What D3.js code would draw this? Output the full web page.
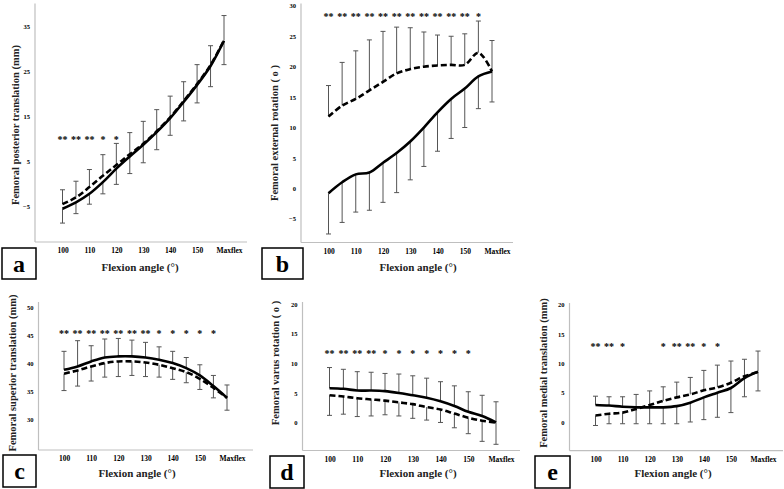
<!DOCTYPE html>
<html><head><meta charset="utf-8">
<script src="https://cdn.jsdelivr.net/npm/d3@7"></script>
<style>body{margin:0;background:#fff}svg{display:block}</style>
</head><body>
<svg id="chart" width="784" height="489"></svg>
<script>
const categories = ["100","105","110","115","120","125","130","135","140","145","150","155","Maxflex"];
const tickLabels = ["100","110","120","130","140","150","Maxflex"];

// Panel a: femoral posterior translation (mm)
const aSolid  = [-5.6,-4.2,-2.3,0.3,3.3,6.0,8.6,11.4,14.5,18.1,21.9,26.1,31.7];
const aDashed = [-4.6,-3.1,-0.8,1.7,4.1,6.5,8.8,11.6,14.7,18.3,22.1,26.3,31.8];
const aErrTop = [-1.4,0.5,3.1,6.4,8.9,11.3,13.8,16.4,19.4,22.6,26.4,30.6,37.3];
const aErrBot = [-8.8,-6.7,-4.6,-2.3,-0.2,2.2,4.6,7.5,10.7,13.9,17.9,21.5,26.4];
const aStars  = ["**","**","**","*","*","","","","","","","",""];
const aTicks  = [-5,5,15,25,35];

// Panel b: femoral external rotation
const bSolid  = [-0.8,1.0,2.3,2.6,4.2,5.8,7.7,10.0,12.5,14.7,16.4,18.4,19.2];
const bDashed = [11.8,13.6,14.7,16.1,17.5,18.9,19.6,20.0,20.2,20.3,20.3,22.3,19.2];
const bErrTop = [16.9,20.7,22.6,24.4,25.8,26.5,26.4,25.7,25.2,25.0,25.4,27.5,24.3];
const bErrBot = [-7.5,-5.6,-3.9,-3.6,-2.3,-0.7,1.4,3.6,6.1,8.2,10.0,13.1,14.2];
const bStars  = ["**","**","**","**","**","**","**","**","**","**","**","*",""];
const bTicks  = [-5,0,5,10,15,20,25,30];

// Panel c: femoral superior translation (mm)
const cSolid  = [38.8,39.4,40.3,41.0,41.2,41.2,41.0,40.6,40.0,39.1,37.8,35.9,33.8];
const cDashed = [38.1,38.7,39.4,40.0,40.3,40.3,40.1,39.7,39.1,38.4,37.2,35.6,33.8];
const cErrTop = [42.1,44.0,43.1,44.3,44.4,44.1,43.7,42.9,42.1,41.0,39.7,37.8,36.1];
const cErrBot = [35.1,35.9,36.8,37.5,37.6,37.8,37.6,37.5,37.1,36.5,35.3,33.8,31.6];
const cStars  = ["**","**","**","**","**","**","**","*","*","*","*","*",""];
const cTicks  = [30,35,40,45,50];

// Panel d: femoral varus rotation
const dSolid  = [5.8,5.7,5.4,5.4,5.3,5.0,4.6,4.2,3.6,2.8,1.8,1.1,0.0];
const dDashed = [4.6,4.4,4.1,3.9,3.7,3.4,3.1,2.6,2.2,1.5,0.8,0.3,0.0];
const dErrTop = [9.3,9.0,8.6,8.5,8.3,8.2,7.9,7.5,6.9,6.2,5.2,4.6,3.5];
const dErrBot = [1.2,1.4,1.0,1.1,1.3,1.1,0.7,0.4,0.0,-0.9,-1.9,-3.2,-3.7];
const dStars  = ["**","**","**","**","*","*","*","*","*","*","*","",""];
const dTicks  = [0,5,10,15,20];

// Panel e: femoral medial translation (mm)
const eSolid  = [2.9,2.8,2.6,2.5,2.5,2.5,2.7,3.3,4.2,5.0,5.8,7.5,8.6];
const eDashed = [1.1,1.4,1.6,2.2,2.9,3.6,4.2,4.7,5.4,5.9,6.7,7.8,8.5];
const eErrTop = [4.4,4.3,4.3,4.7,5.3,6.0,6.8,7.6,8.8,9.7,10.4,10.7,12.1];
const eErrBot = [-0.6,-0.3,-0.3,-0.3,-0.3,-0.3,-0.3,0.0,0.4,0.8,1.6,4.3,5.3];
const eStars  = ["**","**","*","","","*","**","**","*","*","","",""];
const eTicks  = [0,5,10,15,20];

const svg = d3.select("#chart");
const SERIF = "'Liberation Serif','Times New Roman',serif";

const panels = [
  {letter:"a", solid:aSolid, dashed:aDashed, top:aErrTop, bot:aErrBot, stars:aStars, ticks:aTicks,
   title:"Femoral posterior translation (mm)", dom:[-13,40], y0:242, y1:3.4, x0:35, x1:247, p0:62.5, p1:224,
   starV:9.8, tX:15, tY:125, fX:140, fY:271, box:[2,248,34,31]},
  {letter:"b", solid:bSolid, dashed:bDashed, top:bErrTop, bot:bErrBot, stars:bStars, ticks:bTicks,
   title:"Femoral external rotation ( o )", dom:[-8.9,30.4], y0:242.5, y1:3.4, x0:301, x1:513, p0:328.5, p1:492,
   starV:28.3, tX:274, tY:133, fX:418, fY:271, box:[262,248,41,31]},
  {letter:"c", solid:cSolid, dashed:cDashed, top:cErrTop, bot:cErrBot, stars:cStars, ticks:cTicks,
   title:"Femoral  superior translation (mm)", dom:[24.5,50.9], y0:450, y1:302, x0:38.5, x1:253, p0:64, p1:227,
   starV:45.4, tX:12, tY:373, fX:137, fY:477, box:[3,455,33,32]},
  {letter:"d", solid:dSolid, dashed:dDashed, top:dErrTop, bot:dErrBot, stars:dStars, ticks:dTicks,
   title:"Femoral varus rotation ( o )", dom:[-4.75,20.4], y0:450.5, y1:302, x0:302.5, x1:520, p0:329.5, p1:496,
   starV:11.8, tX:275, tY:363, fX:418, fY:477, box:[270,456,34,32]},
  {letter:"e", solid:eSolid, dashed:eDashed, top:eErrTop, bot:eErrBot, stars:eStars, ticks:eTicks,
   title:"Femoral medial translation (mm)", dom:[-4.9,20.3], y0:450.7, y1:303, x0:569.5, x1:783, p0:595.5, p1:758,
   starV:12.9, tX:543, tY:373, fX:673, fY:477, box:[535,456,35,32]}
];

panels.forEach(p => {
  const g = svg.append("g");
  const x = d3.scalePoint().domain(categories).range([p.p0, p.p1]);
  const y = d3.scaleLinear().domain(p.dom).range([p.y0, p.y1]);

  // axis lines (left + bottom), light gray, no ticks
  g.append("line").attr("x1",p.x0).attr("x2",p.x0).attr("y1",p.y1).attr("y2",p.y0)
    .attr("stroke","#bfbfbf").attr("stroke-width",1.2);
  g.append("line").attr("x1",p.x0).attr("x2",p.x1).attr("y1",p.y0).attr("y2",p.y0)
    .attr("stroke","#bfbfbf").attr("stroke-width",1.2);

  // y tick labels via axis generator
  const yAxis = d3.axisLeft(y).tickValues(p.ticks).tickSize(0).tickPadding(5).tickFormat(d3.format("d"));
  const ya = g.append("g").attr("transform",`translate(${p.x0},0)`).call(yAxis);
  ya.select(".domain").remove();
  ya.selectAll("text").attr("font-family",SERIF).attr("font-weight","bold").attr("font-size",6.5).attr("fill","#000");

  // x tick labels
  const xAxis = d3.axisBottom(x).tickValues(tickLabels).tickSize(0).tickPadding(6);
  const xa = g.append("g").attr("transform",`translate(0,${p.y0})`).call(xAxis);
  xa.select(".domain").remove();
  xa.selectAll("text").attr("font-family",SERIF).attr("font-weight","bold").attr("font-size",7.5).attr("fill","#000")
    .attr("dx", d => d === "Maxflex" ? 5 : 0);

  // error bars
  const cap = 2.5;
  categories.forEach((c,i) => {
    const cx = x(c);
    const hi = Math.max(p.solid[i], p.dashed[i]);
    const lo = Math.min(p.solid[i], p.dashed[i]);
    [[hi, p.top[i]], [lo, p.bot[i]]].forEach(([from, to]) => {
      g.append("line").attr("x1",cx).attr("x2",cx).attr("y1",y(from)).attr("y2",y(to))
        .attr("stroke","#555").attr("stroke-width",1);
      g.append("line").attr("x1",cx-cap).attr("x2",cx+cap).attr("y1",y(to)).attr("y2",y(to))
        .attr("stroke","#555").attr("stroke-width",1);
    });
  });

  // lines
  const line = d3.line().x((d,i) => x(categories[i])).y(d => y(d)).curve(d3.curveCatmullRom.alpha(0.5));
  g.append("path").attr("d", line(p.solid)).attr("fill","none").attr("stroke","#000").attr("stroke-width",2.6);
  g.append("path").attr("d", line(p.dashed)).attr("fill","none").attr("stroke","#000").attr("stroke-width",2.6)
    .attr("stroke-dasharray","6,3");

  // significance stars
  categories.forEach((c,i) => {
    if (!p.stars[i]) return;
    g.append("text").attr("x", x(c)).attr("y", y(p.starV) + 4).attr("text-anchor","middle")
      .attr("font-family",SERIF).attr("font-weight","bold").attr("font-size",10).text(p.stars[i]);
  });

  // y title
  g.append("text").attr("transform",`translate(${p.tX},${p.tY}) rotate(-90)`).attr("text-anchor","middle")
    .attr("dy","0.35em").attr("font-family",SERIF).attr("font-weight","bold").attr("font-size",10.5)
    .attr("fill","#222").text(p.title);

  // x title
  g.append("text").attr("x",p.fX).attr("y",p.fY).attr("text-anchor","middle")
    .attr("font-family",SERIF).attr("font-weight","bold").attr("font-size",11).attr("fill","#222")
    .text("Flexion angle (°)");

  // panel letter box
  const [bx,by,bw,bh] = p.box;
  g.append("rect").attr("x",bx).attr("y",by).attr("width",bw).attr("height",bh)
    .attr("fill","#fff").attr("stroke","#000").attr("stroke-width",1.5);
  g.append("text").attr("x",bx+bw/2).attr("y",by+bh/2).attr("dy","0.35em").attr("text-anchor","middle")
    .attr("font-family",SERIF).attr("font-weight","bold").attr("font-size",24).text(p.letter);
});
</script>
</body></html>
